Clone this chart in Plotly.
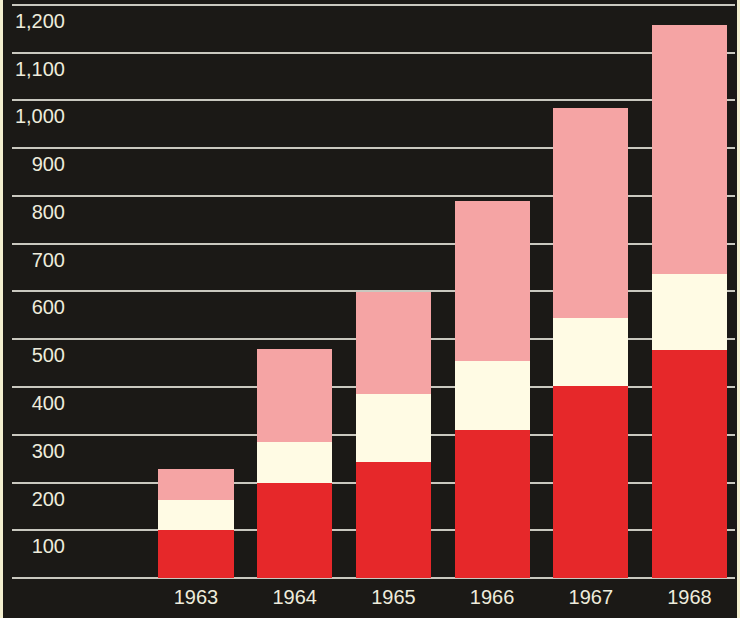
import plotly.graph_objects as go

years = ["1963", "1964", "1965", "1966", "1967", "1968"]
red_vals = [100, 200, 243, 311, 402, 477]
cream_vals = [63, 85, 143, 144, 142, 160]
pink_vals = [65, 195, 212, 335, 441, 520]
y_tick_vals = [100, 200, 300, 400, 500, 600, 700, 800, 900, 1000, 1100, 1200]
y_tick_text = ["100", "200", "300", "400", "500", "600", "700", "800", "900",
               "1,000", "1,100", "1,200"]

BG = "#1b1916"
TXT = "#eeecdc"
GRID = "#c9c8bf"
EDGE = "#f3efcf"

fig = go.Figure()
for vals, col in [(red_vals, "#e6282a"), (cream_vals, "#fffbe4"), (pink_vals, "#f5a4a4")]:
    fig.add_trace(go.Bar(x=years, y=vals, marker=dict(color=col, line=dict(width=0)),
                         width=0.76, showlegend=False, hoverinfo="skip"))
# invisible helper so the label axis is drawn
fig.add_trace(go.Scatter(x=[years[0]], y=[y_tick_vals[0]], yaxis="y2", mode="markers",
                         marker=dict(opacity=0), showlegend=False, hoverinfo="skip"))

W, H = 740, 618
ml, mr, mt, mb = 12, 5, 2, 38
pw = W - ml - mr
ph = H - mt - mb
spacing = 98.7
c0 = 196
xr = [-(c0 - ml) / spacing, (W - mr - c0) / spacing]
yr = [-4, 1206]

def px_x(p):
    return (p - ml) / pw

edge_shapes = [
    dict(type="rect", xref="paper", yref="paper", x0=px_x(0), x1=px_x(3),
         y0=-mb / ph, y1=1 + mt / ph, fillcolor=EDGE, line=dict(width=0), layer="above"),
    dict(type="rect", xref="paper", yref="paper", x0=px_x(737), x1=px_x(741),
         y0=-mb / ph, y1=1 + mt / ph, fillcolor=EDGE, line=dict(width=0), layer="above"),
]

fig.update_layout(
    width=W, height=H,
    margin=dict(l=ml, r=mr, t=mt, b=mb, pad=0),
    paper_bgcolor=BG, plot_bgcolor=BG,
    barmode="stack", bargap=0,
    font=dict(family="Liberation Sans, Arial, sans-serif", color=TXT, size=20),
    xaxis=dict(range=xr, showgrid=False, zeroline=False, showline=False,
               ticks="", tickfont=dict(size=20, color=TXT), ticklabelstandoff=3),
    yaxis=dict(range=yr, dtick=100, tick0=0, showgrid=True, gridcolor=GRID,
               gridwidth=2, zeroline=False, showticklabels=False, ticks=""),
    yaxis2=dict(range=yr, overlaying="y", anchor="free", side="left",
                position=(65 - ml) / pw, showgrid=False, zeroline=False, showline=False,
                tickvals=y_tick_vals, ticktext=y_tick_text, ticks="",
                tickfont=dict(size=20, color=TXT), ticklabelshift=16),
    shapes=edge_shapes,
)
fig.write_html("out.html")
